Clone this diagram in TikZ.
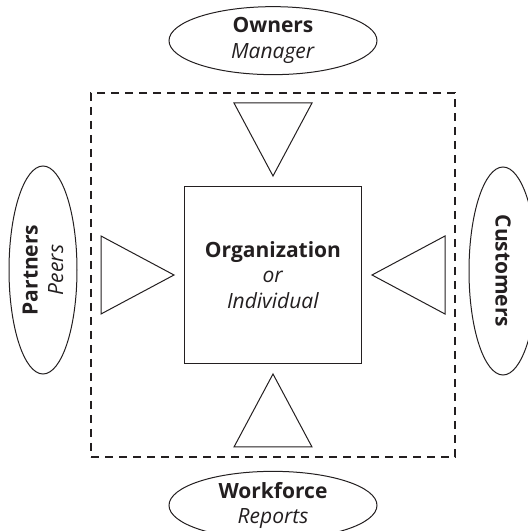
\documentclass[tikz,border=0pt]{standalone}
\usepackage{fontspec}
\setmainfont{Open Sans}
\usepackage{xcolor}
\usetikzlibrary{shapes.geometric}
\usetikzlibrary{positioning}

\definecolor{ink}{RGB}{35,31,32}

\tikzset{
	stake/.style={ellipse, draw=ink, text=ink, line width=1pt, minimum width=208pt, minimum height=68pt, inner sep=0pt, align=center, font=\fontsize{21}{25.5}\selectfont},
	core/.style={rectangle, draw=ink, text=ink, line width=1.8pt, minimum size=177pt, inner sep=0pt, align=center, font=\fontsize{21}{25.5}\selectfont},
	zone/.style={rectangle, draw=ink, line width=1.7pt, dash pattern=on 8pt off 6pt, minimum size=364pt, inner sep=0pt},
	wedge/.style={draw=ink, line width=1pt, line join=miter}
}

\begin{document}
\begin{tikzpicture}[x=1pt, y=1pt]
	
	\useasboundingbox (0,0) rectangle (528,531);
	
	\node[zone](zone) at (273,256){};
	\node[core](org) at (273,256){\textbf{Organization}\\\textit{or}\\\textit{Individual}};
	
	\node[stake, above = 17pt of zone](owners){\textbf{Owners}\\\textit{Manager}};
	\node[stake, below = 13pt of zone](workforce){\textbf{Workforce}\\\textit{Reports}};
	\node[stake, rotate=90](partners) at (43,261){\textbf{Partners}\\\textit{Peers}};
	\node[stake, rotate=-90](customers) at (503,260){\textbf{Customers}};
	
	\foreach \a in {0,90,180,270}
		\draw[wedge, shift={(org.center)}, rotate=\a] (99,0) -- (172,39) -- (172,-39) -- cycle;
	
\end{tikzpicture}
\end{document}
